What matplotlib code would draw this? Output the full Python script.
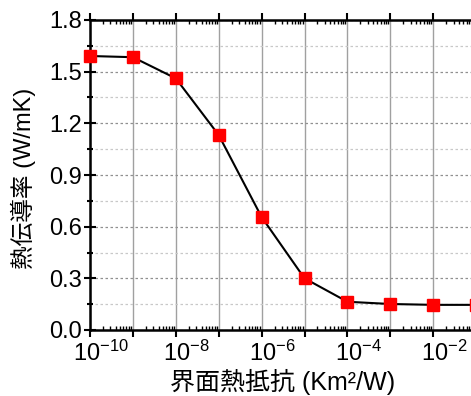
#!/usr/bin/env python3
# thermal_conductivity_vs_boundary_resistance.py

import numpy as np
import matplotlib
matplotlib.use("Agg")
import matplotlib.pyplot as plt
from matplotlib.ticker import MultipleLocator, LogLocator, NullFormatter
from matplotlib.transforms import ScaledTranslation

plt.rcParams["font.family"] = ["Liberation Sans", "Noto Sans CJK JP"]
plt.rcParams["mathtext.fontset"] = "custom"
plt.rcParams["mathtext.rm"] = "Liberation Sans"
plt.rcParams["mathtext.it"] = "Liberation Sans:italic"

# interface thermal resistance (Km^2/W) and thermal conductivity (W/mK)
resistance = [1e-10, 1e-9, 1e-8, 1e-7, 1e-6, 1e-5, 1e-4, 1e-3, 1e-2, 1e-1]
conductivity = [1.591, 1.584, 1.461, 1.132, 0.656, 0.300, 0.164, 0.151, 0.146, 0.146]

label_exponents = [-10, -8, -6, -4, -2]
grid_exponents = list(range(-10, 1))


def main():
    fig = plt.figure(figsize=(4.71, 3.96), dpi=100)
    # the right part of the axes runs off the figure, as in the reference
    ax = fig.add_axes([90 / 471, 66 / 396, 429 / 471, 310 / 396])

    ax.plot(resistance, conductivity, color="black", lw=1.5, zorder=3,
            marker="s", markersize=9, markerfacecolor="#ff0000",
            markeredgecolor="#ff0000", clip_on=False)

    ax.set_xscale("log")
    ax.set_xlim(1e-10, 1e0)
    ax.set_ylim(0, 1.8)

    ax.set_xticks([10.0 ** e for e in grid_exponents])
    ax.set_xticklabels(
        [f"$10^{{{e}}}$" if e in label_exponents else "" for e in grid_exponents]
    )
    ax.xaxis.set_minor_locator(LogLocator(base=10, subs=np.arange(2, 10), numticks=100))
    ax.xaxis.set_minor_formatter(NullFormatter())

    yticks = np.arange(0, 1.81, 0.3)
    ax.set_yticks(yticks)
    ax.set_yticklabels([f"{v:.1f}" for v in yticks])
    ax.yaxis.set_minor_locator(MultipleLocator(0.15))

    ax.grid(True, which="major", axis="x", color="#a0a0a0", lw=1.0, ls="-")
    ax.grid(True, which="major", axis="y", color="#909090", lw=0.9, ls=(0, (2, 2)))
    ax.grid(True, which="minor", axis="y", color="#c8c8c8", lw=0.9, ls=(0, (2, 2)))
    ax.set_axisbelow(True)

    ax.tick_params(axis="x", which="major", direction="out", length=5, width=1.5,
                   labelsize=17, top=True, pad=3)
    ax.tick_params(axis="x", which="minor", direction="in", length=3, width=1.0, top=True)
    ax.tick_params(axis="y", which="major", direction="inout", length=8, width=1.5,
                   labelsize=17, pad=2)
    ax.tick_params(axis="y", which="minor", direction="inout", length=5, width=1.5)

    # centre the "10" rather than the whole label on the tick
    shift = ScaledTranslation(11 / 100, 0, fig.dpi_scale_trans)
    for lab in ax.get_xticklabels():
        lab.set_transform(lab.get_transform() + shift)

    for side in ["left", "bottom", "top"]:
        ax.spines[side].set_linewidth(1.8)
    ax.spines["right"].set_visible(False)

    ax.set_ylabel("熱伝導率 (W/mK)", fontsize=17)
    ax.yaxis.set_label_coords(-0.127, 0.49)
    ax.set_xlabel("界面熱抵抗 (Km²/W)", fontsize=18)
    ax.xaxis.set_label_coords(0.45, -0.125)

    fig.savefig("out.png", dpi=100)


if __name__ == "__main__":
    main()
